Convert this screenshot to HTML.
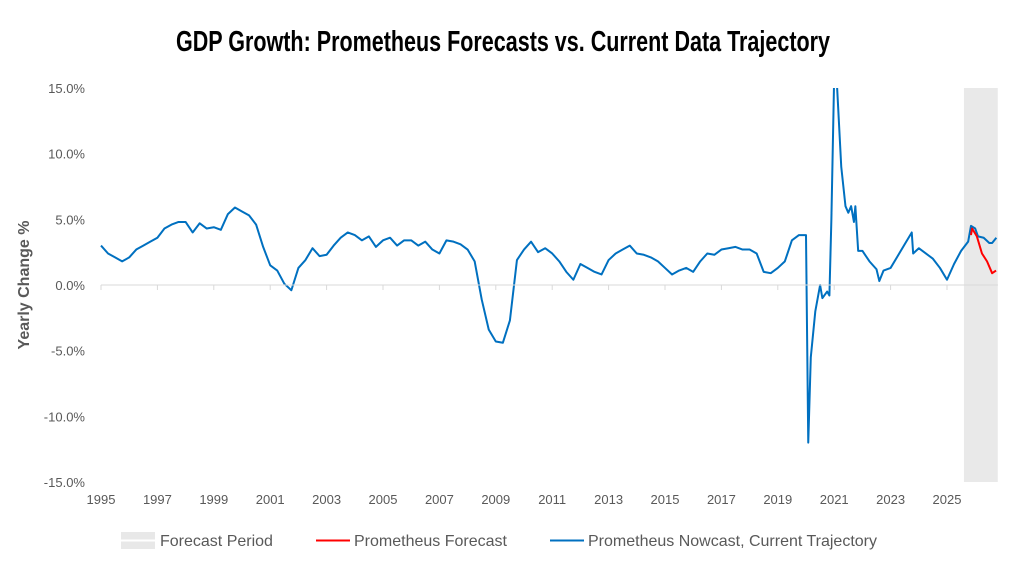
<!DOCTYPE html>
<html><head><meta charset="utf-8"><style>
body{margin:0;background:#fff;width:1035px;height:563px;overflow:hidden;font-family:"Liberation Sans",sans-serif}
</style></head><body>
<svg id="chart" width="1035" height="563" xmlns="http://www.w3.org/2000/svg">
<text x="176" y="51" textLength="654" lengthAdjust="spacingAndGlyphs" font-family="'Liberation Sans',sans-serif" font-weight="bold" font-size="29" fill="#000">GDP Growth: Prometheus Forecasts vs. Current Data Trajectory</text>
<text transform="translate(29,285) rotate(-90)" text-anchor="middle" font-weight="bold" font-size="16" fill="#595959">Yearly Change %</text>
<g id="bands"></g><g id="grid"></g><g id="series"></g><g id="axes"></g>
<g font-size="16" fill="#595959">
<g><rect x="121" y="532" width="34" height="17" fill="#e8e8e8"/><line x1="121" y1="540.5" x2="155" y2="540.5" stroke="#fff" stroke-width="2"/><text x="160" y="546">Forecast Period</text></g>
<g><line x1="316" y1="540.5" x2="350" y2="540.5" stroke="#ff0000" stroke-width="2"/><text x="354" y="546">Prometheus Forecast</text></g>
<g><line x1="550" y1="540.5" x2="584" y2="540.5" stroke="#0070c0" stroke-width="2"/><text x="588" y="546">Prometheus Nowcast, Current Trajectory</text></g>
</g>
</svg>
<script>
const nowDates=[1995,1995.25,1995.5,1995.75,1996,1996.25,1996.5,1996.75,1997,1997.25,1997.5,1997.75,1998,1998.25,1998.5,1998.75,1999,1999.25,1999.5,1999.75,2000,2000.25,2000.5,2000.75,2001,2001.25,2001.5,2001.75,2002,2002.25,2002.5,2002.75,2003,2003.25,2003.5,2003.75,2004,2004.25,2004.5,2004.75,2005,2005.25,2005.5,2005.75,2006,2006.25,2006.5,2006.75,2007,2007.25,2007.5,2007.75,2008,2008.25,2008.5,2008.75,2009,2009.25,2009.5,2009.75,2010,2010.25,2010.5,2010.75,2011,2011.25,2011.5,2011.75,2012,2012.25,2012.5,2012.75,2013,2013.25,2013.5,2013.75,2014,2014.25,2014.5,2014.75,2015,2015.25,2015.5,2015.75,2016,2016.25,2016.5,2016.75,2017,2017.25,2017.5,2017.75,2018,2018.25,2018.5,2018.75,2019,2019.25,2019.5,2019.75,2020,2020.08,2020.17,2020.33,2020.5,2020.58,2020.75,2020.83,2020.9,2021,2021.08,2021.25,2021.4,2021.5,2021.6,2021.7,2021.75,2021.85,2022,2022.25,2022.5,2022.6,2022.75,2023,2023.25,2023.5,2023.75,2023.8,2024,2024.25,2024.5,2024.75,2025,2025.25,2025.5,2025.75,2025.85,2026,2026.1,2026.3,2026.5,2026.6,2026.75];
const nowValues=[3.0,2.4,2.1,1.8,2.1,2.7,3.0,3.3,3.6,4.3,4.6,4.8,4.8,4.0,4.7,4.3,4.4,4.2,5.4,5.9,5.6,5.3,4.6,2.9,1.5,1.1,0.1,-0.4,1.3,1.9,2.8,2.2,2.3,3.0,3.6,4.0,3.8,3.4,3.7,2.9,3.4,3.6,3.0,3.4,3.4,3.0,3.3,2.7,2.4,3.4,3.3,3.1,2.7,1.8,-1.1,-3.4,-4.3,-4.4,-2.7,1.9,2.7,3.3,2.5,2.8,2.4,1.8,1.0,0.4,1.6,1.3,1.0,0.8,1.9,2.4,2.7,3.0,2.4,2.3,2.1,1.8,1.3,0.8,1.1,1.3,1.0,1.8,2.4,2.3,2.7,2.8,2.9,2.7,2.7,2.4,1.0,0.9,1.3,1.8,3.4,3.8,3.8,-12.0,-5.5,-2.0,0.0,-1.0,-0.5,-0.8,5,16,16,9,6,5.5,6.0,4.8,6.0,2.6,2.6,1.8,1.2,0.3,1.1,1.3,2.2,3.1,4.0,2.4,2.8,2.4,2.0,1.3,0.4,1.6,2.6,3.3,4.5,4.3,3.7,3.6,3.2,3.2,3.6];
const fcDates=[2025.85,2025.89,2026.06,2026.24,2026.42,2026.6,2026.74];
const fcValues=[3.8,4.3,3.7,2.4,1.8,0.9,1.1];
const bandRange=[2025.6,2026.8];
const yTicks=[15,10,5,0,-5,-10,-15];
const xTicks=[1995,1997,1999,2001,2003,2005,2007,2009,2011,2013,2015,2017,2019,2021,2023,2025];
const NS="http://www.w3.org/2000/svg";
const X=y=>101+(y-1995)*28.2, Y=v=>285-v*13.133;
function mk(t,a,p){const e=document.createElementNS(NS,t);for(const k in a)e.setAttribute(k,a[k]);p.appendChild(e);return e;}
const svg=document.getElementById('chart');
const defs=mk('defs',{},svg);const cp=mk('clipPath',{id:'plot'},defs);mk('rect',{x:95,y:88,width:910,height:394},cp);
const b=mk('rect',{x:X(bandRange[0]),y:88,width:X(bandRange[1])-X(bandRange[0]),height:394,fill:'#e9e9e9'},document.getElementById('bands'));


const ax=document.getElementById('axes');
yTicks.forEach(t=>{const e=mk('text',{x:85,y:Y(t)+5,'text-anchor':'end','font-size':13,fill:'#595959'},ax);e.textContent=t.toFixed(1)+'%';

});
const z=mk('line',{x1:101,x2:998,y1:Y(0),y2:Y(0),stroke:'#d9d9d9','stroke-width':1},ax);


xTicks.forEach(t=>{mk('line',{x1:X(t),x2:X(t),y1:Y(0),y2:Y(0)+5,stroke:'#d9d9d9'},ax);
const e=mk('text',{x:X(t),y:504,'text-anchor':'middle','font-size':13,fill:'#595959'},ax);e.textContent=t;

});
const s=document.getElementById('series');
const p1=mk('polyline',{points:nowDates.map((d,i)=>X(d)+','+Y(nowValues[i])).join(' '),fill:'none',stroke:'#0070c0','stroke-width':2,'stroke-linejoin':'round','clip-path':'url(#plot)'},s);


const p2=mk('polyline',{points:fcDates.map((d,i)=>X(d)+','+Y(fcValues[i])).join(' '),fill:'none',stroke:'#ff0000','stroke-width':2,'stroke-linejoin':'round'},s);


</script>
</body></html>
